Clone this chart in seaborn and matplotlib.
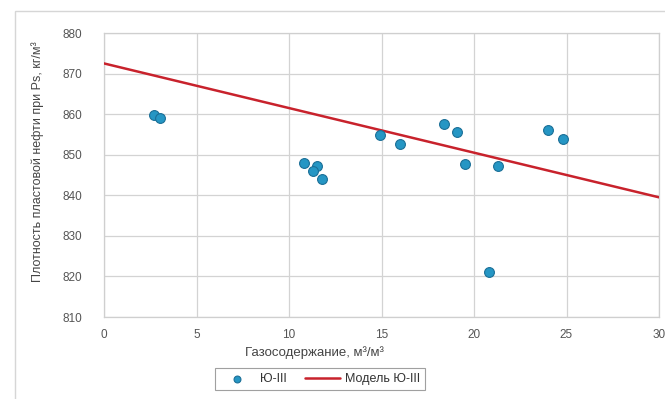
import matplotlib
matplotlib.use("Agg")
import matplotlib.pyplot as plt
import seaborn as sns
import pandas as pd
from matplotlib.patches import Rectangle

gas = [2.7, 3.0, 10.8, 11.5, 11.3, 11.8, 14.9, 16.0, 18.4, 19.1, 19.5, 21.3, 24.0, 24.8, 20.8]
density = [859.8, 859.1, 848.0, 847.2, 846.0, 844.0, 854.9, 852.7, 857.6, 855.6, 847.7, 847.2, 856.1, 853.9, 821.1]

model_x = [0, 30]
model_y = [872.5, 839.5]

x_ticks = [0, 5, 10, 15, 20, 25, 30]
y_ticks = [810, 820, 830, 840, 850, 860, 870, 880]

sns.set_theme(style="white")
plt.rcParams['font.family'] = ['Liberation Sans', 'DejaVu Sans']

fig = plt.figure(figsize=(6.65, 3.99), dpi=100)
ax = fig.add_axes([104/665, 1-317/399, (659-104)/665, (317-33)/399])

df = pd.DataFrame({"x": gas, "y": density})
dm = pd.DataFrame({"x": model_x, "y": model_y})

sns.lineplot(data=dm, x="x", y="y", ax=ax, color="#c8222c", linewidth=1.8,
             label="Модель Ю-III", zorder=3)
sns.scatterplot(data=df, x="x", y="y", ax=ax, color="#2596c4", edgecolor="#1b6f97",
                linewidth=0.8, s=50, label="Ю-III", zorder=4)

ax.set_xlim(0, 30)
ax.set_ylim(810, 880)
ax.set_xticks(x_ticks)
ax.set_yticks(y_ticks)
ax.grid(True, color="#d3d3d3", linewidth=0.9)
ax.set_axisbelow(True)
for sp in ax.spines.values():
    sp.set_color("#cfcfcf")
    sp.set_linewidth(0.9)
ax.tick_params(axis="both", labelsize=8.5, colors="#555555", width=0.8,
               color="#cfcfcf")
ax.tick_params(axis="y", length=4, pad=11.5)
ax.tick_params(axis="x", length=0, pad=9)
ax.set_xlabel("")
ax.set_ylabel("")

fig.text(38/665, 1-162/399, "Плотность пластовой нефти при Ps, кг/м³", rotation=90,
         ha="center", va="center", fontsize=9, color="#444444")
fig.text(314/665, 1-353/399, "Газосодержание, м³/м³", ha="center", va="center",
         fontsize=9.5, color="#444444")

handles, labels = ax.get_legend_handles_labels()
order = [1, 0]
leg = fig.legend([handles[i] for i in order], [labels[i] for i in order],
                 loc="center", bbox_to_anchor=(320/665, 1-379/399), ncol=2,
                 fontsize=9, frameon=True, fancybox=False, edgecolor="#888888",
                 handlelength=2.8, columnspacing=1.5, handletextpad=0.4,
                 borderpad=0.4, labelcolor="#333333", markerscale=0.7)
leg.get_frame().set_linewidth(0.8)
if ax.get_legend():
    ax.get_legend().remove()

fig.patches.append(Rectangle((15/665, -0.1), 1.0, 1-11/399+0.1, transform=fig.transFigure,
                             fill=False, edgecolor="#d6d6d6", linewidth=1.0))

fig.savefig("out.png", dpi=100)
